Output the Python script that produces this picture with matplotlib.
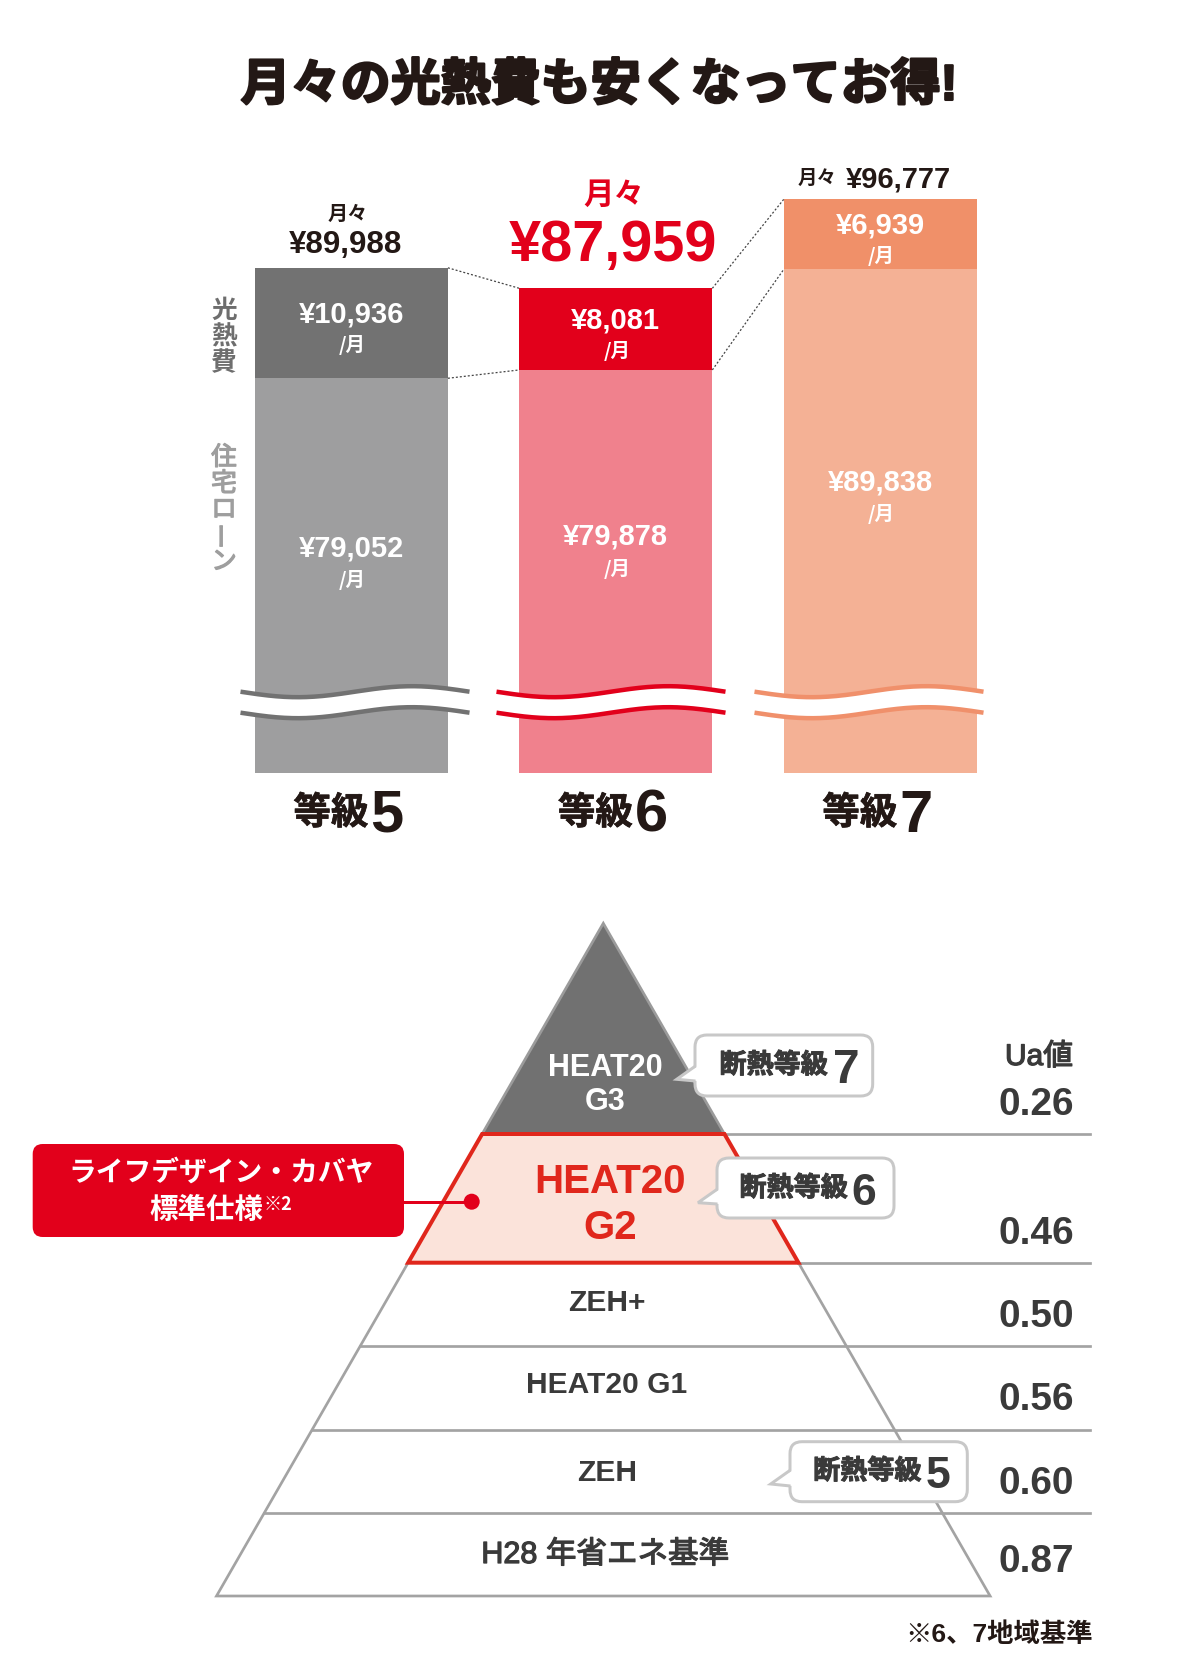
import matplotlib
matplotlib.use('Agg')
import matplotlib.pyplot as plt
import numpy as np
from matplotlib.patches import Polygon, FancyBboxPatch, Circle
import matplotlib.patheffects as pe

plt.rcParams['font.family'] = ['Liberation Sans', 'Noto Sans CJK JP', 'DejaVu Sans']

# ---------------- data ----------------
title = '月々の光熱費も安くなってお得!'
grade_prefix = '等級'
grade_nums = ['5', '6', '7']
loan = [79052, 79878, 89838]          # 住宅ローン
energy = [10936, 8081, 6939]          # 光熱費
totals = [89988, 87959, 96777]        # 月々合計

tiers = ['HEAT20\nG3', 'HEAT20\nG2', 'ZEH+', 'HEAT20 G1', 'ZEH', 'H28 年省エネ基準']
ua_values = ['0.26', '0.46', '0.50', '0.56', '0.60', '0.87']
bubble_grades = {0: '7', 1: '6', 4: '5'}
callout_lines = ['ライフデザイン・カバヤ', '標準仕様']
footnote = '※6、7地域基準'

# ---------------- styles ----------------
W, H = 1201, 1667
PT = 0.72
DARK = '#231815'
TXT = '#3a3a3a'
loan_colors = ['#9e9e9f', '#f0818d', '#f4b195']
energy_colors = ['#727272', '#e2001b', '#f09069']
wave_colors = ['#727272', '#e2001b', '#f0906b']
RED = '#e0271c'
GRAY_LINE = '#a3a3a3'
CJK = ['Noto Sans CJK JP', 'DejaVu Sans']


def thick(color, w=0.7):
    return [pe.withStroke(linewidth=w, foreground=color)]


fig = plt.figure(figsize=(W / 100, H / 100), dpi=100)

# ---------------- bar axes ----------------
BOT_PX, TOP_PX = 772.7, 150.0
k = 0.0101
ybase = 40000
ax_b = fig.add_axes([0, 1 - BOT_PX / H, 1, (BOT_PX - TOP_PX) / H])
c0, sp = 351.4, 264.45
ax_b.set_xlim(-c0 / sp, (W - c0) / sp)
ax_b.set_ylim(ybase, ybase + (BOT_PX - TOP_PX) / k)
ax_b.axis('off')
xs = np.arange(len(loan))
bw = 193 / sp
ax_b.bar(xs, loan, bw, color=loan_colors, linewidth=0)
ax_b.bar(xs, energy, bw, bottom=loan, color=energy_colors, linewidth=0)
for i in range(len(xs) - 1):
    for a, b in ((totals[i], totals[i + 1]), (loan[i], loan[i + 1])):
        ax_b.plot([xs[i] + bw / 2, xs[i + 1] - bw / 2], [a, b], color='#444444',
                  lw=0.9, ls=(0, (1.6, 1.6)))

# overlay axes in pixel coordinates
ax = fig.add_axes([0, 0, 1, 1], zorder=3)
ax.set_xlim(0, W)
ax.set_ylim(H, 0)
ax.axis('off')


def px(xd, yd):
    dx, dy = ax_b.transData.transform((xd, yd))
    return dx, H - dy


# title
ax.text(599, 86, title, ha='center', va='center', fontsize=36, fontweight='bold', color=DARK,
        path_effects=thick(DARK, 1.8))

# bar labels
for i in range(len(xs)):
    cx, ytop = px(xs[i], totals[i])
    _, ymid_top = px(xs[i], loan[i] + energy[i] / 2)
    _, yb = px(xs[i], loan[i])
    ax.text(cx, ymid_top - 9, '¥{:,}'.format(energy[i]), ha='center', va='center',
            fontsize=21, fontweight='bold', color='white')
    ax.text(cx + 1, ymid_top + 22, '/月', ha='center', va='center', family=CJK,
            fontsize=14, fontweight='bold', color='white')
    dy_loan = [170, 167, 213][i]
    ax.text(cx, yb + dy_loan, '¥{:,}'.format(loan[i]), ha='center', va='center',
            fontsize=21, fontweight='bold', color='white')
    ax.text(cx + 1, yb + dy_loan + 32, '/月', ha='center', va='center', family=CJK,
            fontsize=14, fontweight='bold', color='white')
    # category labels
    split = cx + 17
    ax.text(split, 814, grade_prefix, ha='right', va='center', fontsize=27,
            fontweight='bold', color=DARK, path_effects=thick(DARK, 0.5))
    ax.text(split + 2, 831.7, grade_nums[i], ha='left', va='baseline', fontsize=43,
            fontweight='bold', color=DARK)

# totals
cx0, t0 = px(xs[0], totals[0])
ax.text(cx0 - 4, t0 - 53, '月々', ha='center', va='center', fontsize=14.5, fontweight='bold', color=DARK)
ax.text(cx0 - 6, t0 - 23, '¥{:,}'.format(totals[0]), ha='center', va='center', fontsize=22.5,
        fontweight='bold', color=DARK)
cx1, t1 = px(xs[1], totals[1])
ax.text(cx1 - 2, t1 - 92, '月々', ha='center', va='center', fontsize=22, fontweight='bold', color='#e2001b')
ax.text(cx1 - 3, t1 - 42, '¥{:,}'.format(totals[1]), ha='center', va='center', fontsize=41.5,
        fontweight='bold', color='#e2001b')
cx2, t2 = px(xs[2], totals[2])
ax.text(cx2 - 44, t2 - 20, '月々', ha='right', va='center', fontsize=14, fontweight='bold', color=DARK)
ax.text(cx2 - 34, t2 - 20, '¥{:,}'.format(totals[2]), ha='left', va='center', fontsize=21,
        fontweight='bold', color=DARK)

# vertical side labels
for j, ch in enumerate('光熱費'):
    ax.text(224, 311 + 26 * j, ch, ha='center', va='center', fontsize=18.5,
            fontweight='bold', color='#6e6e6e')
for j, ch in enumerate('住宅ローン'):
    ax.text(224, 458 + 26 * j, ch, ha='center', va='center', fontsize=18.5,
            fontweight='normal', color='#9e9e9e', rotation=90 if ch == 'ー' else 0,
            path_effects=thick('#9e9e9e', 0.9))

# break waves
wave_cx = [355, 611, 869]
WW = 229
for i in range(len(xs)):
    xl = wave_cx[i] - WW / 2
    xx = np.linspace(xl, xl + WW, 200)
    off = 5.5 * np.sin(2 * np.pi * (xx - xl) / WW)
    yu = 691.7 + off
    yl = 712.7 + off
    poly = np.vstack([np.column_stack([xx, yu]), np.column_stack([xx[::-1], yl[::-1]])])
    ax.add_patch(Polygon(poly, closed=True, facecolor='white', edgecolor='none', zorder=2))
    ax.plot(xx, yu, color=wave_colors[i], lw=4.5 * PT, solid_capstyle='butt', zorder=3)
    ax.plot(xx, yl, color=wave_colors[i], lw=4.5 * PT, solid_capstyle='butt', zorder=3)

# ---------------- pyramid ----------------
AX, AY = 603.3, 923.3
slope = 0.575
bounds = [AY, 1134, 1262.7, 1346, 1429.7, 1513.3, 1596]
LINE_END = 1090


def lx(y):
    return AX - slope * (y - AY)


def rx(y):
    return AX + slope * (y - AY)


glw = 2.7 * PT
# lower trapezoid outline
yb0, yb1 = bounds[2], bounds[-1]
ax.plot([lx(yb0), lx(yb1), rx(yb1), rx(yb0)], [yb0, yb1, yb1, yb0], color=GRAY_LINE, lw=glw,
        solid_joinstyle='miter', zorder=2)
for y in bounds[3:-1]:
    ax.plot([lx(y), LINE_END], [y, y], color=GRAY_LINE, lw=glw, zorder=2)
for y in bounds[1:3]:
    ax.plot([rx(y), LINE_END], [y, y], color=GRAY_LINE, lw=glw, zorder=2)

# top triangle
ax.add_patch(Polygon([(AX, AY), (rx(bounds[1]), bounds[1]), (lx(bounds[1]), bounds[1])], closed=True,
                     facecolor='#717171', edgecolor='#9b9b9b', lw=2.7 * PT, zorder=3,
                     joinstyle='miter'))
# red trapezoid
ax.add_patch(Polygon([(lx(bounds[1]), bounds[1]), (rx(bounds[1]), bounds[1]),
                      (rx(bounds[2]), bounds[2]), (lx(bounds[2]), bounds[2])], closed=True,
                     facecolor='#fbe3da', edgecolor=RED, lw=4 * PT, zorder=4, joinstyle='miter'))

# tier labels
label_y = [(1067.5, 1101.7), (1182, 1228), 1302.5, 1385, 1472.5, 1555]
for t, name in enumerate(tiers):
    if t == 0:
        a, b = name.split('\n')
        ax.text(605, label_y[t][0], a, ha='center', va='center', fontsize=22, fontweight='bold',
                color='white', zorder=6)
        ax.text(605, label_y[t][1], b, ha='center', va='center', fontsize=22, fontweight='bold',
                color='white', zorder=6)
    elif t == 1:
        a, b = name.split('\n')
        ax.text(610, label_y[t][0], a, ha='center', va='center', fontsize=29, fontweight='bold',
                color=RED, zorder=6)
        ax.text(610, label_y[t][1], b, ha='center', va='center', fontsize=29, fontweight='bold',
                color=RED, zorder=6)
    elif t == 5:
        ax.text(605, label_y[t], name, ha='center', va='center', fontsize=22, fontweight='normal',
                color=TXT, zorder=6, path_effects=thick(TXT, 0.9))
    else:
        ax.text(607, label_y[t], name, ha='center', va='center', fontsize=21.6, fontweight='bold',
                color=TXT, zorder=6)

# Ua column
ax.text(1073, 1057, 'Ua値', ha='right', va='center', fontsize=21.5, fontweight='normal', color=TXT,
        path_effects=thick(TXT, 0.9))
ua_y = [1105, 1234, 1317, 1400, 1483.5, 1562]
for t, v in enumerate(ua_values):
    ax.text(1074, ua_y[t], v, ha='right', va='center', fontsize=28, fontweight='bold', color=TXT)

# bubbles
bubble_geom = {
    0: dict(box=(695, 1035, 872.7, 1096), tip=(676.7, 1079.3), att=(1066, 1081),
            txt=(828, 1066), num=(833, 1082.7), nsize=34.5),
    1: dict(box=(717, 1158, 894, 1218), tip=(698, 1202.7), att=(1189, 1204),
            txt=(848, 1189), num=(851.7, 1204.5), nsize=32),
    4: dict(box=(790, 1441.7, 967.3, 1501.7), tip=(770.7, 1484), att=(1470, 1486),
            txt=(921.7, 1472), num=(926, 1487.5), nsize=32),
}
BUB_EDGE = '#c8c8c8'
for t, g in bubble_grades.items():
    geo = bubble_geom[t]
    x0, y0, x1, y1 = geo['box']
    ax.add_patch(FancyBboxPatch((x0, y0), x1 - x0, y1 - y0,
                                boxstyle='round,pad=0,rounding_size=12',
                                facecolor='white', edgecolor=BUB_EDGE, lw=3 * PT, zorder=7))
    tx, ty = geo['tip']
    a0, a1 = geo['att']
    ax.add_patch(Polygon([(tx, ty), (x0 + 3, a0), (x0 + 3, a1)], closed=True, facecolor='white',
                         edgecolor='none', zorder=8))
    ax.plot([x0 + 0.5, tx, x0 + 0.5], [a0, ty, a1], color=BUB_EDGE, lw=3 * PT, zorder=8,
            solid_joinstyle='miter', solid_capstyle='butt')
    ax.text(geo['txt'][0], geo['txt'][1], '断熱等級', ha='right', va='center', fontsize=19.5,
            fontweight='bold', color=TXT, zorder=9, path_effects=thick(TXT, 0.7))
    ax.text(geo['num'][0], geo['num'][1], g, ha='left', va='baseline', fontsize=geo['nsize'],
            fontweight='bold', color=TXT, zorder=9)

# red callout
ax.add_patch(FancyBboxPatch((32.7, 1144), 404 - 32.7, 1237 - 1144,
                            boxstyle='round,pad=0,rounding_size=10',
                            facecolor='#e2001b', edgecolor='none', zorder=7))
ax.text(221, 1173, callout_lines[0], ha='center', va='center', fontsize=20, fontweight='bold',
        color='white', zorder=8)
ax.text(263, 1210, callout_lines[1], ha='right', va='center', fontsize=20.5, fontweight='bold',
        color='white', zorder=8)
ax.text(264, 1204, '※2', ha='left', va='center', fontsize=13, fontweight='bold', family=CJK,
        color='white', zorder=8)
ax.plot([404, 471.7], [1201.7, 1201.7], color='#e2001b', lw=3 * PT, zorder=7)
ax.add_patch(Circle((471.7, 1201.7), 8, facecolor='#e2001b', edgecolor='none', zorder=7))

# footnote
ax.text(1093, 1635, footnote, ha='right', va='center', fontsize=19, fontweight='bold', color=DARK)

fig.savefig('out.png', dpi=100, facecolor='white')
